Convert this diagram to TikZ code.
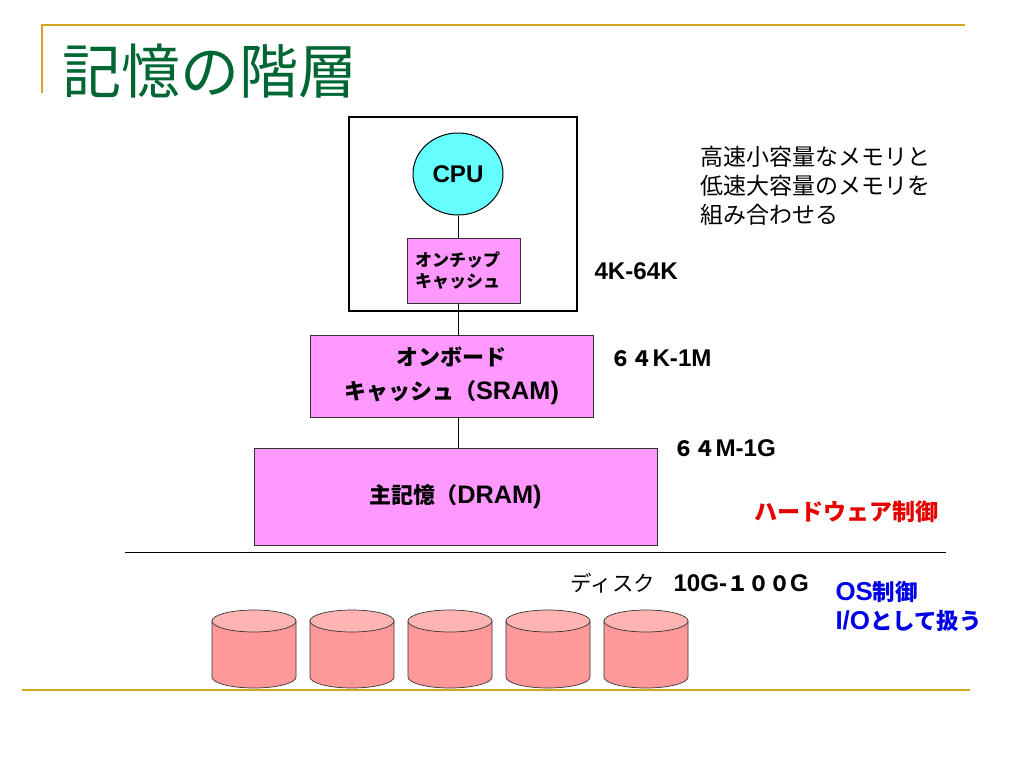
\documentclass[tikz,border=0pt]{standalone}
\usepackage{fontspec}
\setmainfont{Noto Sans CJK JP}
\newfontfamily\arialfam[Scale=1.15]{Liberation Sans}
\usepackage{tikz}
\usetikzlibrary{positioning,shapes.geometric}
\definecolor{kinsen}{RGB}{212,165,30}
\definecolor{midori}{RGB}{0,102,51}
\definecolor{momoiro}{RGB}{255,153,255}
\definecolor{mizuiro}{RGB}{102,255,255}
\definecolor{diskbody}{RGB}{255,153,153}
\definecolor{disktop}{RGB}{255,180,180}
\definecolor{akairo}{RGB}{230,0,0}
\definecolor{aoiro}{RGB}{0,0,230}
\newcommand{\ar}[1]{{\arialfam\bfseries #1}}

\begin{document}
\begin{tikzpicture}[x=1pt,y=-1pt,
    pinkbox/.style={draw=black!80,fill=momoiro,line width=0.8pt,font=\bfseries\fontsize{22}{34}\selectfont,align=center},
    sizelbl/.style={anchor=west,font=\bfseries\fontsize{21}{26}\selectfont}]
			\useasboundingbox (0,0) rectangle (1024,768);
			\draw[kinsen,line width=1.6pt] (42,93) -- (42,25) -- (965,25);
			\draw[kinsen,line width=1.6pt] (22,690) -- (970,690);
			\node[anchor=west,midori,font=\fontsize{59}{64}\selectfont] (title) at (59,71) {記憶の階層};
			\draw[line width=1.5pt] (349,117) rectangle (577,311);
			\node[draw,fill=mizuiro,line width=1pt,ellipse,minimum width=90pt,minimum height=82pt,inner sep=0pt,font=\fontsize{21}{24}\selectfont] (cpu) at (458,174) {\ar{CPU}};
			\node[pinkbox,font=\bfseries\fontsize{17}{21}\selectfont,align=left,text width=97pt,inner xsep=8pt,minimum height=65pt] (chip) at (463.5,270.5) {オンチップ\\キャッシュ};
			\node[pinkbox,minimum width=283pt,minimum height=82pt] (onboard) at (451.5,376) {オンボード\\キャッシュ（\ar{SRAM)}};
			\node[pinkbox,minimum width=403pt,minimum height=97pt] (dram) at (455.5,496.5) {主記憶（\ar{DRAM)}};
			\draw (cpu.south) -- (cpu.south |- chip.north);
			\draw (cpu.south |- chip.south) -- (cpu.south |- onboard.north);
			\draw (cpu.south |- onboard.south) -- (cpu.south |- dram.north);
			\draw (125,552) -- (946,552);
			\node[anchor=west,align=left,font=\fontsize{23}{29}\selectfont] (memo) at (697,186) {高速小容量なメモリと\\低速大容量のメモリを\\組み合わせる};
			\node[sizelbl] (chipsz) at (591,271) {\ar{4K-64K}};
			\node[sizelbl] (boardsz) at (607,358) {６４\ar{K-1M}};
			\node[sizelbl] (dramsz) at (670,448) {６４\ar{M-1G}};
			\node[sizelbl,akairo,font=\bfseries\fontsize{23}{26}\selectfont] (hwctl) at (751,512) {ハードウェア制御};
			\node[anchor=west,font=\fontsize{21.5}{24}\selectfont] (disk) at (567,583) {ディスク};
			\node[sizelbl] (disksz) at (670,583) {\ar{10G-}１００\ar{G}};
			\node[anchor=west,align=left,aoiro,font=\bfseries\fontsize{22.5}{29}\selectfont] (osctl) at (832,606) {\ar{OS}制御\\\ar{I/O}として扱う};
			\foreach \i in {0,...,4}
			{
				\filldraw[fill=diskbody,draw=black!80,line width=0.7pt] (212+98*\i,621) -- (212+98*\i,677) arc[start angle=180,end angle=0,x radius=42,y radius=11] -- (296+98*\i,621) -- cycle;
				\filldraw[fill=disktop,draw=black!80,line width=0.7pt] (254+98*\i,621) ellipse[x radius=42,y radius=11];
			}
		\end{tikzpicture}
\end{document}
